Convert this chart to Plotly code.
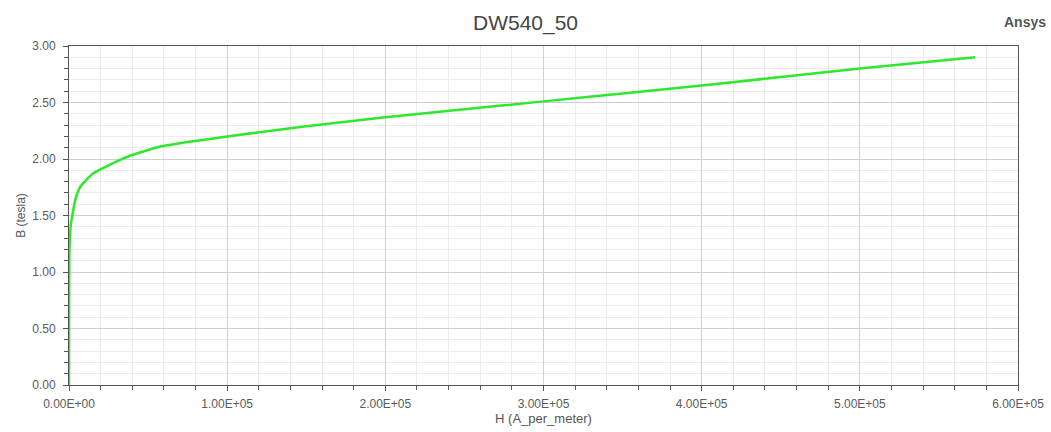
import plotly.graph_objects as go

# B-H curve data
H_values = [0, 0, 50, 150, 300, 600, 1000, 1500, 2500, 4000, 7000, 10000, 15000, 20000, 26000,
            37000, 50000, 58000, 75000, 100000, 150000, 200000, 250000, 300000, 350000,
            400000, 450000, 500000, 573000]
B_values = [0.0, 0.0, 0.6, 1.0, 1.2, 1.32, 1.40, 1.45, 1.53, 1.64, 1.75, 1.80, 1.87, 1.91, 1.95,
            2.02, 2.08, 2.11, 2.15, 2.20, 2.29, 2.37, 2.44, 2.51, 2.58,
            2.65, 2.725, 2.80, 2.90]

x_tickvals = [0, 100000, 200000, 300000, 400000, 500000, 600000]
x_ticktext = ["0.00E+00", "1.00E+05", "2.00E+05", "3.00E+05", "4.00E+05", "5.00E+05", "6.00E+05"]
y_tickvals = [0, 0.5, 1.0, 1.5, 2.0, 2.5, 3.0]
y_ticktext = ["0.00", "0.50", "1.00", "1.50", "2.00", "2.50", "3.00"]

FONT = "Liberation Sans, Arial"

fig = go.Figure()
fig.add_trace(go.Scatter(x=H_values, y=B_values, mode="lines", line_shape="spline",
                         line=dict(color="#2ee82e", width=2.5), showlegend=False,
                         hoverinfo="skip"))

axis_common = dict(showline=True, linecolor="#555555", linewidth=1, mirror=True,
                   ticks="outside", ticklen=5, tickcolor="#555555", zeroline=False,
                   showgrid=True, gridcolor="#cfcfcf", gridwidth=1,
                   tickfont=dict(family=FONT, size=12, color="#5a5a5a"))

fig.update_xaxes(range=[0, 600000], tickmode="array", tickvals=x_tickvals, ticktext=x_ticktext,
                 ticklabelstandoff=3,
                 minor=dict(dtick=20000, showgrid=True, gridcolor="#ececec", ticks="outside",
                            ticklen=4, tickcolor="#555555"),
                 title=dict(text="H (A_per_meter)", font=dict(family=FONT, size=13, color="#555555"),
                            standoff=3),
                 **axis_common)
fig.update_yaxes(range=[0, 3.0], tickmode="array", tickvals=y_tickvals, ticktext=y_ticktext,
                 ticklabelstandoff=5,
                 minor=dict(dtick=0.1, showgrid=True, gridcolor="#ececec", ticks="outside",
                            ticklen=4, tickcolor="#555555"),
                 title=dict(text="B (tesla)", font=dict(family=FONT, size=12, color="#555555"),
                            standoff=4),
                 **axis_common)

fig.update_layout(
    width=1051, height=432,
    margin=dict(l=69, r=33, t=46, b=47, autoexpand=False),
    paper_bgcolor="white", plot_bgcolor="white",
    hovermode=False,
    title=dict(text="DW540_50", x=0.5, xanchor="center", y=1 - 23 / 432, yanchor="middle",
               font=dict(family=FONT, size=21, color="#444444")),
    annotations=[dict(text="<b>Ansys</b>", xref="paper", yref="paper", x=1.0316, y=1.0,
                      xanchor="right", yanchor="middle", yshift=24, showarrow=False,
                      font=dict(family=FONT, size=14, color="#555555"))],
)

fig.write_html("out.html", config={"displayModeBar": False},
               post_script="document.body.style.margin='0';")
